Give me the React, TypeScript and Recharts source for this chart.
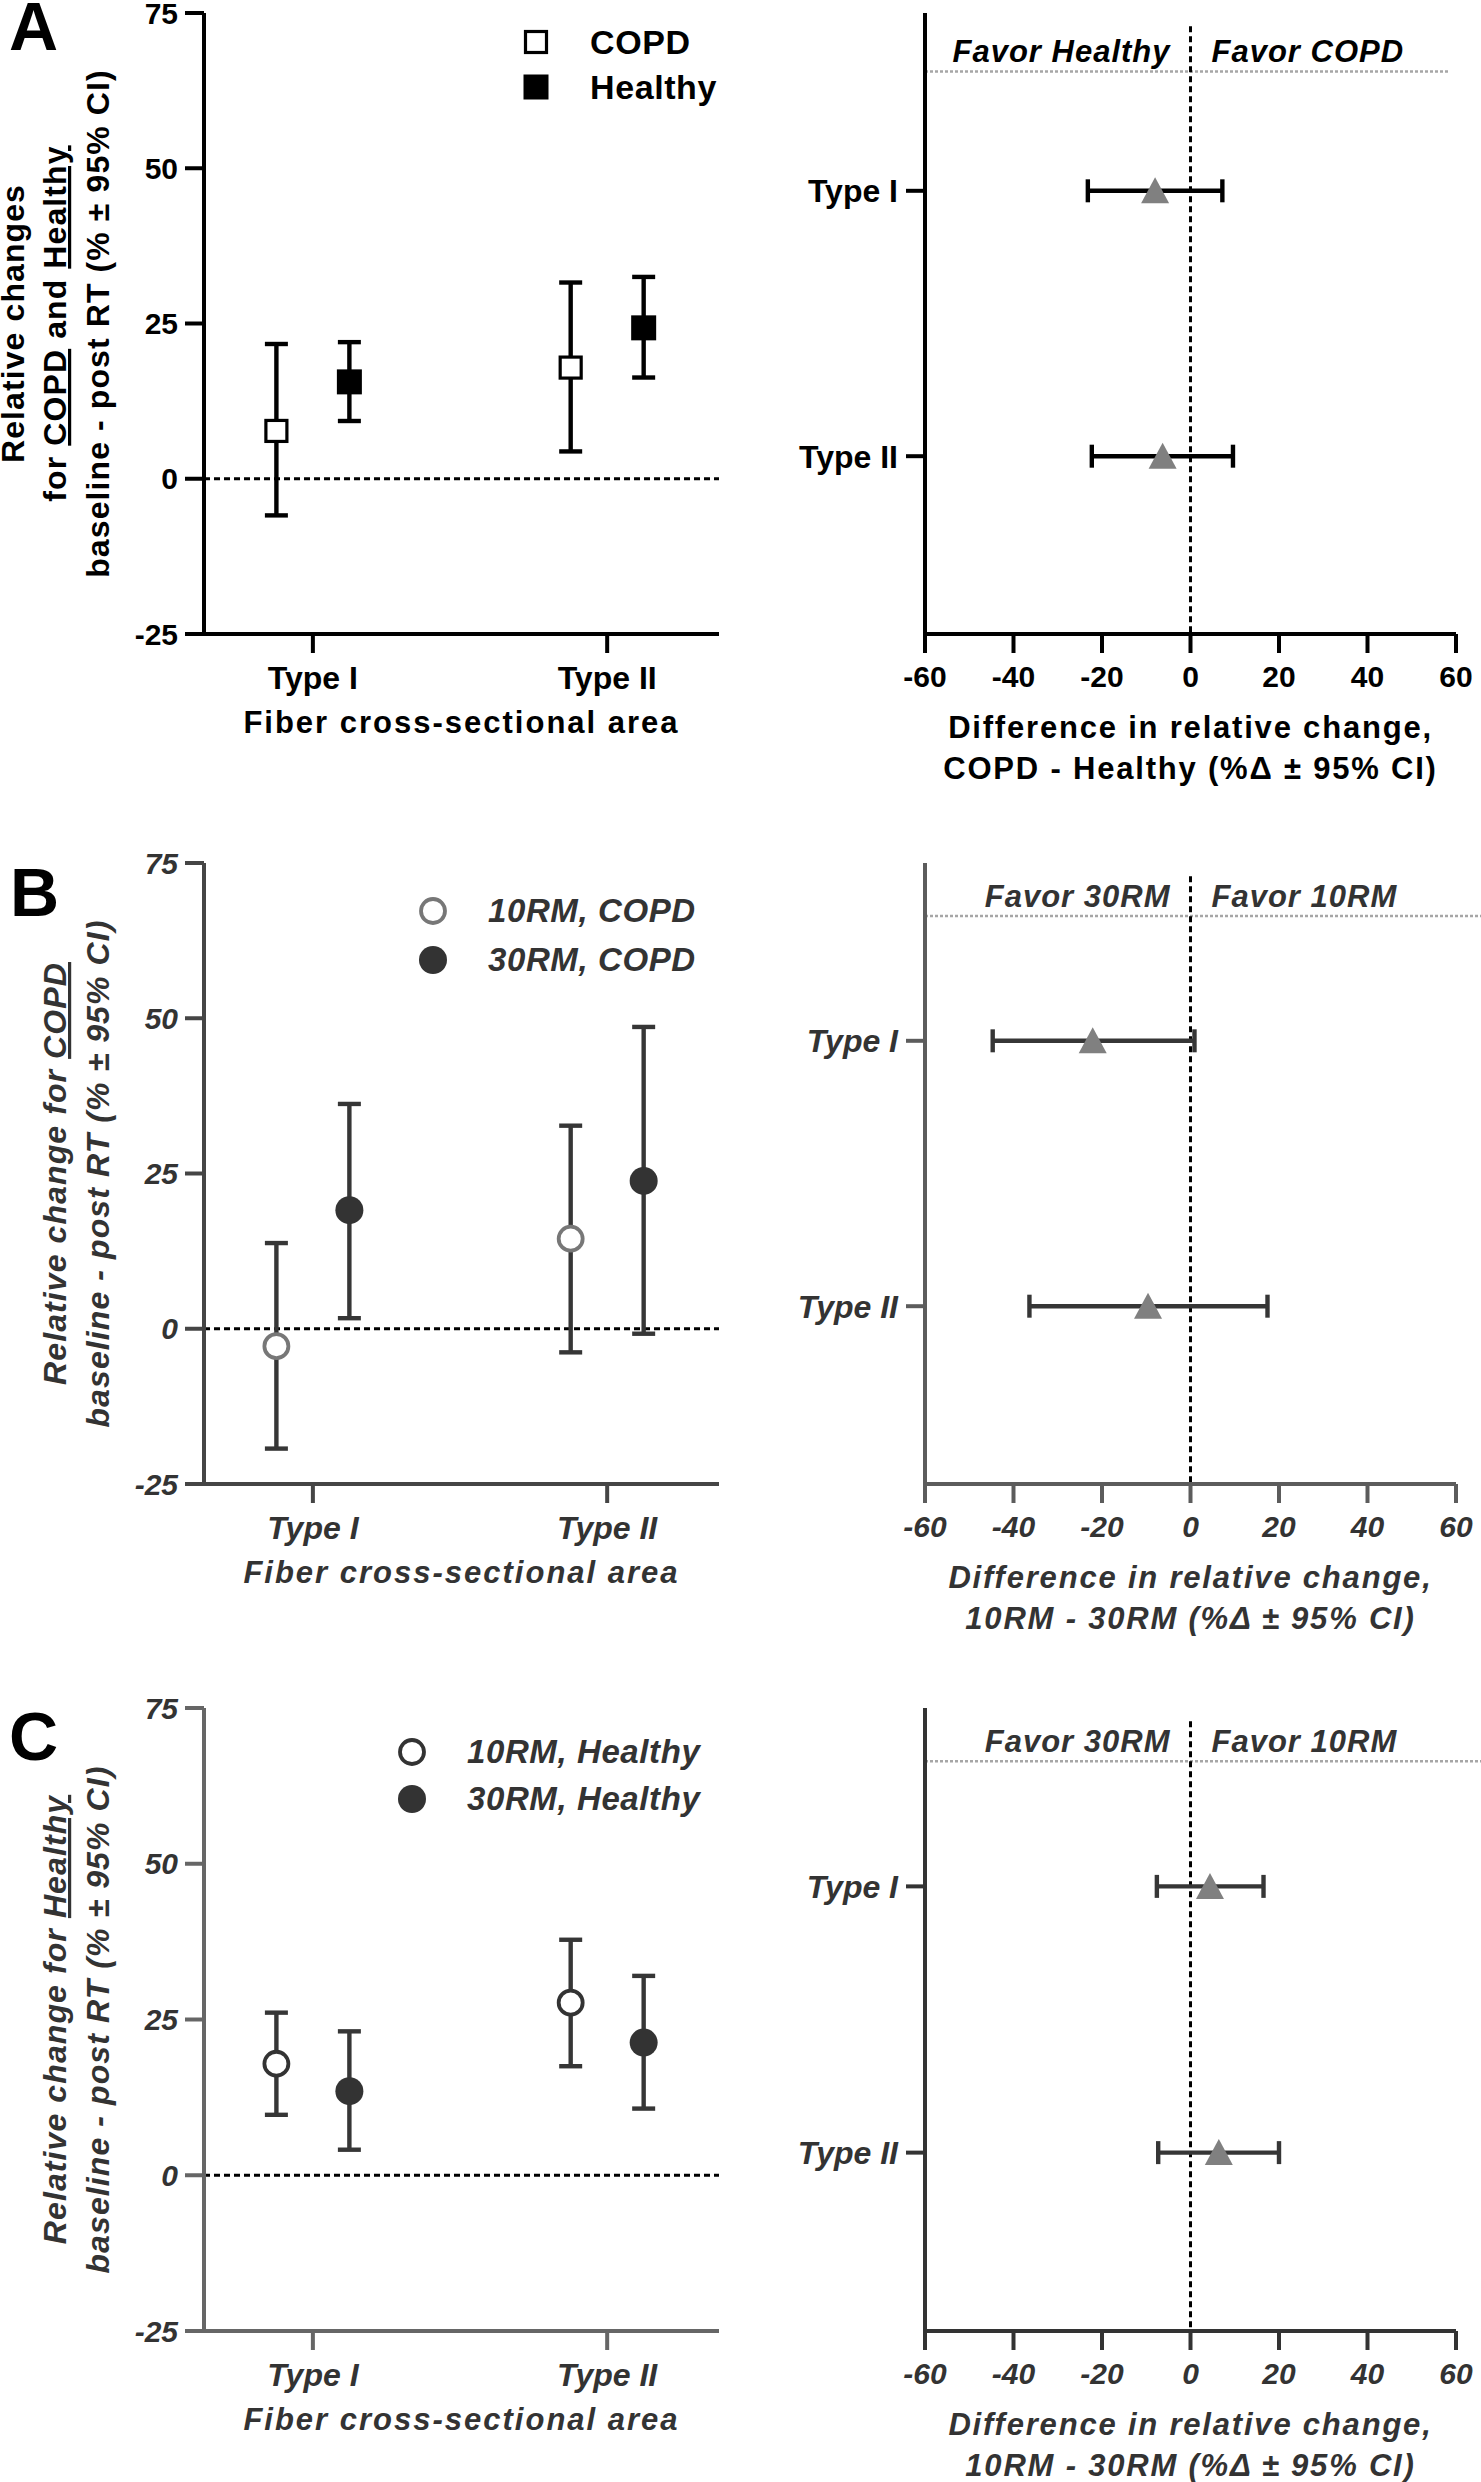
import React from "react";
import {
  ScatterChart,
  Scatter,
  XAxis,
  YAxis,
  ErrorBar,
  ReferenceLine,
  ReferenceDot,
  Legend,
} from "recharts";

const FONT = "'Liberation Sans', Arial, Helvetica, sans-serif";

const FIBER_TYPES = ["Type I", "Type II"];
const GROUP_TICKS = [-25, 0, 25, 50, 75];
const DIFF_TICKS = [-60, -40, -20, 0, 20, 40, 60];

// A: COPD vs Healthy
const A_COPD_MEAN = [7.7, 17.9];
const A_COPD_LOW = [-5.9, 4.4];
const A_COPD_HIGH = [21.7, 31.6];
const A_HEALTHY_MEAN = [15.6, 24.3];
const A_HEALTHY_LOW = [9.3, 16.3];
const A_HEALTHY_HIGH = [22.0, 32.5];
const A_DIFF_MEAN = [-8.0, -6.3];
const A_DIFF_LOW = [-23.2, -22.3];
const A_DIFF_HIGH = [7.2, 9.6];

// B: 10RM vs 30RM in COPD
const B_10RM_MEAN = [-2.8, 14.5];
const B_10RM_LOW = [-19.3, -3.8];
const B_10RM_HIGH = [13.8, 32.7];
const B_30RM_MEAN = [19.1, 23.8];
const B_30RM_LOW = [1.7, -0.8];
const B_30RM_HIGH = [36.2, 48.6];
const B_DIFF_MEAN = [-22.1, -9.6];
const B_DIFF_LOW = [-44.7, -36.4];
const B_DIFF_HIGH = [0.9, 17.4];

// C: 10RM vs 30RM in Healthy
const C_10RM_MEAN = [17.9, 27.7];
const C_10RM_LOW = [9.7, 17.5];
const C_10RM_HIGH = [26.1, 37.8];
const C_30RM_MEAN = [13.5, 21.3];
const C_30RM_LOW = [4.1, 10.7];
const C_30RM_HIGH = [23.1, 32.0];
const C_DIFF_MEAN = [4.4, 6.4];
const C_DIFF_LOW = [-7.6, -7.3];
const C_DIFF_HIGH = [16.5, 20.0];

const DODGE = 0.124;

type Pt = { x: number; y: number; err: [number, number] };
type MarkerKind = "squareOpen" | "squareFilled" | "circleOpen" | "circleFilled";

const groupPoints = (mean: number[], low: number[], high: number[], shift: number): Pt[] =>
  mean.map((m, i) => ({ x: i + 1 + shift, y: m, err: [m - low[i], high[i] - m] }));

const diffPoints = (mean: number[], low: number[], high: number[]): Pt[] =>
  mean.map((m, i) => ({ x: m, y: i + 1, err: [m - low[i], high[i] - m] }));

function Marker({ kind, cx, cy, color }: { kind: MarkerKind; cx: number; cy: number; color: string }) {
  if (kind === "squareOpen")
    return <rect x={cx - 10.5} y={cy - 10.5} width={21} height={21} fill="#fff" stroke={color} strokeWidth={3.2} />;
  if (kind === "squareFilled")
    return <rect x={cx - 12.5} y={cy - 12.5} width={25} height={25} fill={color} />;
  if (kind === "circleOpen")
    return <circle cx={cx} cy={cy} r={12} fill="#fff" stroke={color} strokeWidth={3.8} />;
  return <circle cx={cx} cy={cy} r={14} fill={color} />;
}

function Triangle({ cx, cy }: { cx: number; cy: number }) {
  return (
    <polygon
      points={`${cx},${cy - 13.5} ${cx - 14},${cy + 12.5} ${cx + 14},${cy + 12.5}`}
      fill="#808080"
    />
  );
}

interface Series {
  name: string;
  kind: MarkerKind;
  color: string;
  barColor: string;
  data: Pt[];
}

interface GroupPanelCfg {
  top: number;
  marginTop: number;
  plotHeight: number;
  italic: boolean;
  axisColor: string;
  textColor: string;
  titleLines: React.ReactNode[];
  titleOffsets: number[];
  series: Series[];
  legend: { markerX: number; textX: number; rows: number[]; fontSize: number };
}

interface DiffPanelCfg {
  top: number;
  marginTop: number;
  plotHeight: number;
  italic: boolean;
  axisColor: string;
  textColor: string;
  barColor: string;
  favorLeft: string;
  favorRight: string;
  guideY: number;
  guideEnd: number;
  titleLines: string[];
  data: Pt[];
}

const U = ({ children }: { children: React.ReactNode }) => (
  <tspan style={{ textDecoration: "underline" }}>{children}</tspan>
);

const AXIS_W = 4;

// stroke widths forced through css as well
const CSS = `
.recharts-errorBar line { stroke-width: 4.4px !important; }
.recharts-cartesian-axis-line, .recharts-cartesian-axis-tick-line,
.recharts-cartesian-axis line { stroke-width: ${AXIS_W}px !important; }
.zero-line line { stroke-width: 3px !important; stroke-dasharray: 6 4 !important; }
.guide-line line { stroke-width: 2.5px !important; stroke-dasharray: 3 2 !important; }
`;

function GroupPanel({ cfg }: { cfg: GroupPanelCfg }) {
  const fontStyle = cfg.italic ? "italic" : "normal";
  const numTick = { fill: cfg.textColor, fontSize: 30, fontWeight: 700, fontStyle, fontFamily: FONT };
  const catTick = { ...numTick, fontSize: 32 };
  const height = cfg.marginTop + cfg.plotHeight + 160;
  const rowH = cfg.legend.rows[1] - cfg.legend.rows[0];

  const renderYTitle = (props: any) => {
    const vb = props.viewBox;
    const plotLeft = vb.x + vb.width;
    const cy = vb.y + vb.height / 2;
    return (
      <g>
        {cfg.titleLines.map((line, i) => (
          <text
            key={i}
            transform={`translate(${plotLeft + cfg.titleOffsets[i]},${cy}) rotate(-90)`}
            textAnchor="middle"
            fill={cfg.textColor}
            fontFamily={FONT}
            fontWeight={700}
            fontStyle={fontStyle}
            fontSize={32}
            style={{ letterSpacing: 1.1 }}
          >
            {line}
          </text>
        ))}
      </g>
    );
  };

  const renderXTitle = (props: any) => {
    const vb = props.viewBox;
    return (
      <text
        x={vb.x + vb.width / 2}
        y={vb.y + 99}
        textAnchor="middle"
        fill={cfg.textColor}
        fontFamily={FONT}
        fontWeight={700}
        fontStyle={fontStyle}
        fontSize={31}
        style={{ letterSpacing: 2 }}
      >
        Fiber cross-sectional area
      </text>
    );
  };

  const renderLegend = () => (
    <div style={{ fontFamily: FONT, fontWeight: 700, fontStyle, fontSize: cfg.legend.fontSize, color: cfg.textColor }}>
      {cfg.series.map((s) => (
        <div key={s.name} style={{ display: "flex", alignItems: "center", height: rowH, whiteSpace: "nowrap" }}>
          <svg width={cfg.legend.textX - cfg.legend.markerX + 14} height={30} style={{ flex: "none" }}>
            <Marker kind={s.kind} cx={14} cy={15} color={s.color} />
          </svg>
          <span style={{ letterSpacing: 0.6 }}>{s.name}</span>
        </div>
      ))}
    </div>
  );

  return (
    <div style={{ position: "absolute", left: 0, top: cfg.top }}>
      <ScatterChart width={740} height={height} margin={{ top: cfg.marginTop, right: 21, bottom: 0, left: 0 }}>
        <XAxis
          type="number"
          dataKey="x"
          domain={[0.63, 2.38]}
          allowDataOverflow
          ticks={[1, 2]}
          interval={0}
          tickFormatter={(v: number) => FIBER_TYPES[Math.round(v) - 1]}
          height={160}
          tickSize={19}
          tickMargin={13}
          tick={catTick}
          stroke={cfg.axisColor}
          strokeWidth={AXIS_W}
          axisLine={{ stroke: cfg.axisColor, strokeWidth: AXIS_W }}
          tickLine={{ stroke: cfg.axisColor, strokeWidth: AXIS_W }}
          label={renderXTitle}
        />
        <YAxis
          type="number"
          dataKey="y"
          domain={[-25, 75]}
          allowDataOverflow
          ticks={GROUP_TICKS}
          interval={0}
          width={204}
          tickSize={19}
          tickMargin={7}
          tick={numTick}
          stroke={cfg.axisColor}
          strokeWidth={AXIS_W}
          axisLine={{ stroke: cfg.axisColor, strokeWidth: AXIS_W }}
          tickLine={{ stroke: cfg.axisColor, strokeWidth: AXIS_W }}
          label={renderYTitle}
        />
        <ReferenceLine y={0} className="zero-line" stroke="#000" strokeWidth={3} strokeDasharray="6 4" />
        {cfg.series.map((s) => (
          <Scatter
            key={s.name}
            name={s.name}
            data={s.data}
            isAnimationActive={false}
            shape={(p: any) => <Marker kind={s.kind} cx={p.cx} cy={p.cy} color={s.color} />}
          >
            <ErrorBar
              dataKey="err"
              direction="y"
              width={11.5}
              stroke={s.barColor}
              strokeWidth={4.4}
              isAnimationActive={false}
            />
          </Scatter>
        ))}
        <Legend
          layout="vertical"
          align="center"
          verticalAlign="middle"
          content={renderLegend}
          wrapperStyle={{
            left: cfg.legend.markerX - 14,
            top: cfg.legend.rows[0] - rowH / 2,
            width: "auto",
            height: "auto",
          }}
        />
      </ScatterChart>
    </div>
  );
}

function DiffPanel({ cfg }: { cfg: DiffPanelCfg }) {
  const fontStyle = cfg.italic ? "italic" : "normal";
  const numTick = { fill: cfg.textColor, fontSize: 30, fontWeight: 700, fontStyle, fontFamily: FONT };
  const catTick = { ...numTick, fontSize: 32 };
  const height = cfg.marginTop + cfg.plotHeight + 160;

  const renderXTitle = (props: any) => {
    const vb = props.viewBox;
    return (
      <g>
        {cfg.titleLines.map((line, i) => (
          <text
            key={i}
            x={vb.x + vb.width / 2}
            y={vb.y + 104 + i * 41}
            textAnchor="middle"
            fill={cfg.textColor}
            fontFamily={FONT}
            fontWeight={700}
            fontStyle={fontStyle}
            fontSize={31}
            style={{ letterSpacing: 1.8 }}
          >
            {line}
          </text>
        ))}
      </g>
    );
  };

  const renderFavor = (p: any) => (
    <g fontFamily={FONT} fontWeight={700} fontStyle="italic" fontSize={31} fill={cfg.textColor}>
      <text x={p.cx - 20} y={p.cy - 9} textAnchor="end" style={{ letterSpacing: 1 }}>
        {cfg.favorLeft}
      </text>
      <text x={p.cx + 21} y={p.cy - 9} textAnchor="start" style={{ letterSpacing: 1 }}>
        {cfg.favorRight}
      </text>
    </g>
  );

  return (
    <div style={{ position: "absolute", left: 740, top: cfg.top }}>
      <ScatterChart width={741} height={height} margin={{ top: cfg.marginTop, right: 25, bottom: 0, left: 0 }}>
        <XAxis
          type="number"
          dataKey="x"
          domain={[-60, 60]}
          allowDataOverflow
          ticks={DIFF_TICKS}
          interval={0}
          height={160}
          tickSize={19}
          tickMargin={13}
          tick={numTick}
          stroke={cfg.axisColor}
          strokeWidth={AXIS_W}
          axisLine={{ stroke: cfg.axisColor, strokeWidth: AXIS_W }}
          tickLine={{ stroke: cfg.axisColor, strokeWidth: AXIS_W }}
          label={renderXTitle}
        />
        <YAxis
          type="number"
          dataKey="y"
          domain={[0.33, 2.67]}
          reversed
          allowDataOverflow
          ticks={[1, 2]}
          interval={0}
          tickFormatter={(v: number) => FIBER_TYPES[Math.round(v) - 1]}
          width={185}
          tickSize={19}
          tickMargin={8}
          tick={catTick}
          stroke={cfg.axisColor}
          strokeWidth={AXIS_W}
          axisLine={{ stroke: cfg.axisColor, strokeWidth: AXIS_W }}
          tickLine={{ stroke: cfg.axisColor, strokeWidth: AXIS_W }}
        />
        <ReferenceLine
          className="guide-line"
          segment={[
            { x: -60, y: cfg.guideY },
            { x: cfg.guideEnd, y: cfg.guideY },
          ]}
          ifOverflow="visible"
          stroke="#a6a6a6"
          strokeWidth={2.5}
          strokeDasharray="3 2"
        />
        <ReferenceLine
          className="zero-line"
          segment={[
            { x: 0, y: 0.38 },
            { x: 0, y: 2.67 },
          ]}
          stroke="#000"
          strokeWidth={3}
          strokeDasharray="5 3"
        />
        <ReferenceDot x={0} y={cfg.guideY} r={0} ifOverflow="visible" shape={renderFavor} />
        <Scatter
          name="difference"
          data={cfg.data}
          isAnimationActive={false}
          shape={(p: any) => <Triangle cx={p.cx} cy={p.cy} />}
        >
          <ErrorBar
            dataKey="err"
            direction="x"
            width={11.5}
            stroke={cfg.barColor}
            strokeWidth={4.4}
            isAnimationActive={false}
          />
        </Scatter>
      </ScatterChart>
    </div>
  );
}

const panelA: GroupPanelCfg = {
  top: 0,
  marginTop: 13,
  plotHeight: 621,
  italic: false,
  axisColor: "#000",
  textColor: "#000",
  titleLines: [
    "Relative changes",
    <>
      for <U>COPD</U> and <U>Healthy</U>
    </>,
    "baseline - post RT (% ± 95% CI)",
  ],
  titleOffsets: [-180, -138, -95],
  series: [
    { name: "COPD", kind: "squareOpen", color: "#000", barColor: "#000", data: groupPoints(A_COPD_MEAN, A_COPD_LOW, A_COPD_HIGH, -DODGE) },
    { name: "Healthy", kind: "squareFilled", color: "#000", barColor: "#000", data: groupPoints(A_HEALTHY_MEAN, A_HEALTHY_LOW, A_HEALTHY_HIGH, DODGE) },
  ],
  legend: { markerX: 535.6, textX: 590, rows: [42, 87], fontSize: 34 },
};

const panelB: GroupPanelCfg = {
  top: 840,
  marginTop: 23,
  plotHeight: 621,
  italic: true,
  axisColor: "#454545",
  textColor: "#333",
  titleLines: [
    <>
      Relative change for <U>COPD</U>
    </>,
    "baseline - post RT (% ± 95% CI)",
  ],
  titleOffsets: [-138, -95],
  series: [
    { name: "10RM, COPD", kind: "circleOpen", color: "#777", barColor: "#363636", data: groupPoints(B_10RM_MEAN, B_10RM_LOW, B_10RM_HIGH, -DODGE) },
    { name: "30RM, COPD", kind: "circleFilled", color: "#333", barColor: "#363636", data: groupPoints(B_30RM_MEAN, B_30RM_LOW, B_30RM_HIGH, DODGE) },
  ],
  legend: { markerX: 433, textX: 488, rows: [71, 120], fontSize: 33 },
};

const panelC: GroupPanelCfg = {
  top: 1680,
  marginTop: 28,
  plotHeight: 623,
  italic: true,
  axisColor: "#666",
  textColor: "#333",
  titleLines: [
    <>
      Relative change for <U>Healthy</U>
    </>,
    "baseline - post RT (% ± 95% CI)",
  ],
  titleOffsets: [-138, -95],
  series: [
    { name: "10RM, Healthy", kind: "circleOpen", color: "#333", barColor: "#363636", data: groupPoints(C_10RM_MEAN, C_10RM_LOW, C_10RM_HIGH, -DODGE) },
    { name: "30RM, Healthy", kind: "circleFilled", color: "#333", barColor: "#363636", data: groupPoints(C_30RM_MEAN, C_30RM_LOW, C_30RM_HIGH, DODGE) },
  ],
  legend: { markerX: 411.5, textX: 467, rows: [71.6, 118.7], fontSize: 33 },
};

const diffA: DiffPanelCfg = {
  top: 0,
  marginTop: 13,
  plotHeight: 621,
  italic: false,
  axisColor: "#000",
  textColor: "#000",
  barColor: "#000",
  favorLeft: "Favor Healthy",
  favorRight: "Favor COPD",
  guideY: 0.55,
  guideEnd: 58.5,
  titleLines: ["Difference in relative change,", "COPD - Healthy (%Δ ± 95% CI)"],
  data: diffPoints(A_DIFF_MEAN, A_DIFF_LOW, A_DIFF_HIGH),
};

const diffB: DiffPanelCfg = {
  top: 840,
  marginTop: 23,
  plotHeight: 621,
  italic: true,
  axisColor: "#5c5c5c",
  textColor: "#333",
  barColor: "#363636",
  favorLeft: "Favor 30RM",
  favorRight: "Favor 10RM",
  guideY: 0.53,
  guideEnd: 68,
  titleLines: ["Difference in relative change,", "10RM - 30RM (%Δ ± 95% CI)"],
  data: diffPoints(B_DIFF_MEAN, B_DIFF_LOW, B_DIFF_HIGH),
};

const diffC: DiffPanelCfg = {
  top: 1680,
  marginTop: 28,
  plotHeight: 623,
  italic: true,
  axisColor: "#333",
  textColor: "#333",
  barColor: "#363636",
  favorLeft: "Favor 30RM",
  favorRight: "Favor 10RM",
  guideY: 0.53,
  guideEnd: 68,
  titleLines: ["Difference in relative change,", "10RM - 30RM (%Δ ± 95% CI)"],
  data: diffPoints(C_DIFF_MEAN, C_DIFF_LOW, C_DIFF_HIGH),
};

export default function App() {
  return (
    <div style={{ position: "absolute", left: 0, top: 0, width: 1481, height: 2482, background: "#fff", overflow: "hidden" }}>
      <style>{CSS}</style>
      <GroupPanel cfg={panelA} />
      <DiffPanel cfg={diffA} />
      <GroupPanel cfg={panelB} />
      <DiffPanel cfg={diffB} />
      <GroupPanel cfg={panelC} />
      <DiffPanel cfg={diffC} />
      <svg
        width={1481}
        height={2482}
        style={{ position: "absolute", left: 0, top: 0, pointerEvents: "none" }}
        fontFamily={FONT}
        fontWeight={700}
        fontSize={68}
        fill="#000"
      >
        <text x={9} y={50}>A</text>
        <text x={10} y={916}>B</text>
        <text x={9} y={1760}>C</text>
      </svg>
    </div>
  );
}
